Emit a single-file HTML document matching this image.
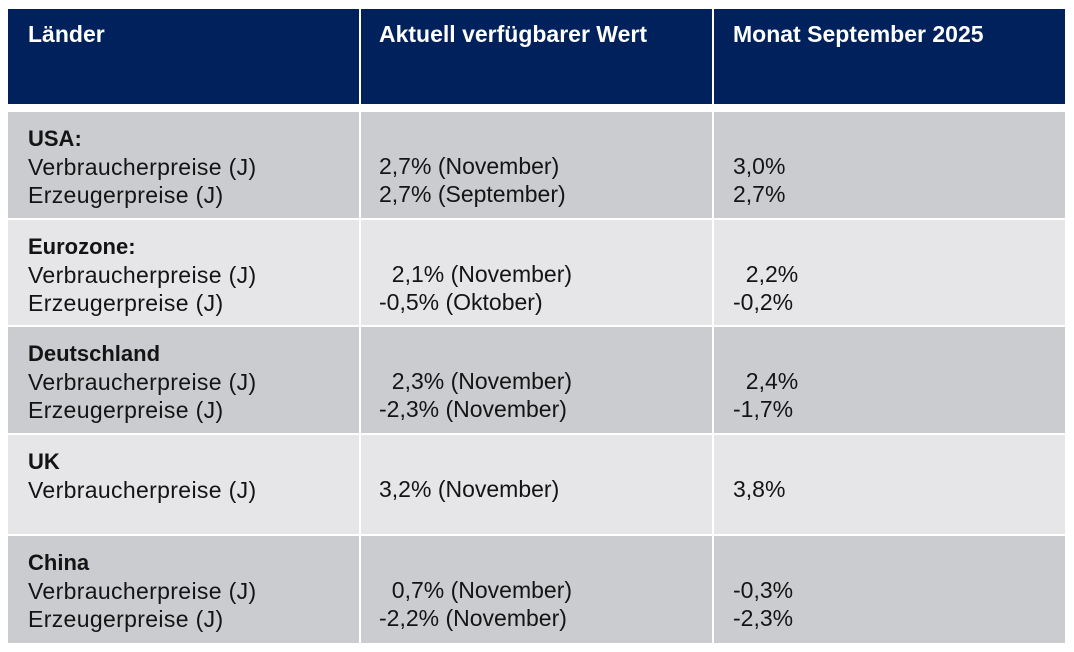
<!DOCTYPE html>
<html>
<head>
<meta charset="utf-8">
<style>
  html, body { margin:0; padding:0; background:#ffffff; }
  body { width:1074px; height:652px; position:relative; overflow:hidden;
         font-family:"Liberation Sans", Arial, sans-serif; color:#141414; }
  .c { position:absolute; box-sizing:border-box; }
  .h { background:#00215c; color:#ffffff; font-weight:bold; font-size:23px; line-height:28px; padding-top:11px; }
  .d { background:#cbccd0; }
  .l { background:#e6e6e8; }
  .t { font-size:23px; line-height:28px; white-space:pre; }
  .lab { letter-spacing:0.35px; }
  .b { font-weight:bold; font-size:22px; letter-spacing:0; }
  .c1 { left:8px; width:351px; padding-left:20px; }
  .c2 { left:361px; width:351px; padding-left:18px; }
  .c3 { left:714px; width:351px; padding-left:19px; }
  .r { padding-top:12px; }
</style>
</head>
<body>
  <!-- header -->
  <div class="c h c1" style="top:9px;height:95px;">Länder</div>
  <div class="c h c2" style="top:9px;height:95px;">Aktuell verfügbarer Wert</div>
  <div class="c h c3" style="top:9px;height:95px;">Monat September 2025</div>

  <!-- USA -->
  <div class="c d c1 r t lab" style="top:112px;height:106px;"><span class="b">USA:</span>
Verbraucherpreise (J)
Erzeugerpreise (J)</div>
  <div class="c d c2 r t" style="top:112px;height:106px;"> 
2,7% (November)
2,7% (September)</div>
  <div class="c d c3 r t" style="top:112px;height:106px;"> 
3,0%
2,7%</div>

  <!-- Eurozone -->
  <div class="c l c1 r t lab" style="top:220px;height:105px;"><span class="b">Eurozone:</span>
Verbraucherpreise (J)
Erzeugerpreise (J)</div>
  <div class="c l c2 r t" style="top:220px;height:105px;"> 
  2,1% (November)
-0,5% (Oktober)</div>
  <div class="c l c3 r t" style="top:220px;height:105px;"> 
  2,2%
-0,2%</div>

  <!-- Deutschland -->
  <div class="c d c1 r t lab" style="top:327px;height:106px;"><span class="b">Deutschland</span>
Verbraucherpreise (J)
Erzeugerpreise (J)</div>
  <div class="c d c2 r t" style="top:327px;height:106px;"> 
  2,3% (November)
-2,3% (November)</div>
  <div class="c d c3 r t" style="top:327px;height:106px;"> 
  2,4%
-1,7%</div>

  <!-- UK -->
  <div class="c l c1 r t lab" style="top:435px;height:99px;"><span class="b">UK</span>
Verbraucherpreise (J)</div>
  <div class="c l c2 r t" style="top:435px;height:99px;"> 
3,2% (November)</div>
  <div class="c l c3 r t" style="top:435px;height:99px;"> 
3,8%</div>

  <!-- China -->
  <div class="c d c1 r t lab" style="top:536px;height:107px;"><span class="b">China</span>
Verbraucherpreise (J)
Erzeugerpreise (J)</div>
  <div class="c d c2 r t" style="top:536px;height:107px;"> 
  0,7% (November)
-2,2% (November)</div>
  <div class="c d c3 r t" style="top:536px;height:107px;"> 
-0,3%
-2,3%</div>
</body>
</html>
